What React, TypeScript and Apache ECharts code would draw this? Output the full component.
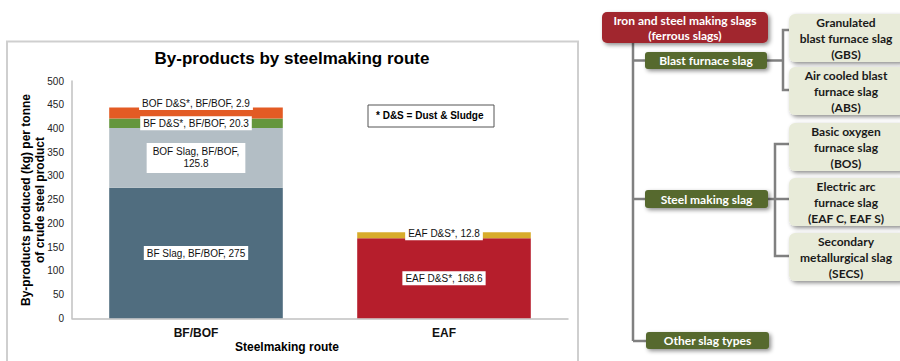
import React, { useEffect, useRef } from "react";
import * as echarts from "echarts";

const routes = ["BF/BOF", "EAF"];
const yTicks = { min: 0, max: 500, interval: 50 };

const bfSlag = [275, "-"];
const bofSlag = [125.8, "-"];
const bfDS = [20.3, "-"];
const bofDS = [22.9, "-"];
const eafDSMain = ["-", 168.6];
const eafDSTop = ["-", 12.8];

const segmentNames = ["BF Slag", "BOF Slag", "BF D&S*", "BOF D&S*", "EAF D&S* (main)", "EAF D&S* (top)"];
const segmentLabels = [
  "BF Slag, BF/BOF, 275",
  "BOF Slag, BF/BOF,\n125.8",
  "BF D&S*, BF/BOF, 20.3",
  "BOF D&S*, BF/BOF, 2.9",
  "EAF D&S*, 168.6",
  "EAF D&S*, 12.8",
];
const segmentColors = ["#506D7F", "#B3BEC5", "#65963D", "#E35B24", "#B61E2C", "#D8AC2B"];

const yAxisTitle = "By-products produced (kg) per tonne\nof crude steel product";
const xAxisTitle = "Steelmaking route";
const chartTitle = "By-products by steelmaking route";

const treeRoot = ["Iron and steel making slags", "(ferrous slags)"];
const treeGroups = ["Blast furnace slag", "Steel making slag", "Other slag types"];
const treeLeaves = [
  ["Granulated", "blast furnace slag", "(GBS)"],
  ["Air cooled blast", "furnace slag", "(ABS)"],
  ["Basic oxygen", "furnace slag", "(BOS)"],
  ["Electric arc", "furnace slag", "(EAF C, EAF S)"],
  ["Secondary", "metallurgical slag", "(SECS)"],
];

const FONT = "'Liberation Sans', Arial, sans-serif";
const TFONT = "Lato, 'Open Sans', sans-serif";

export default function App() {
  const ref = useRef<HTMLDivElement>(null);
  useEffect(() => {
    if (!ref.current) return;
    const chart = echarts.init(ref.current, null, { renderer: "svg" });
    const seriesData = [bfSlag, bofSlag, bfDS, bofDS, eafDSMain, eafDSTop];
    const offsets = [[0, 0], [0, 0], [0, 0], [0, -10], [0, 0], [0, -2]];
    const series = seriesData.map((d, i) => ({
      name: segmentNames[i],
      type: "bar",
      stack: "total",
      data: d,
      barWidth: "70%",
      itemStyle: { color: segmentColors[i] },
      label: {
        show: true,
        position: "inside",
        offset: offsets[i],
        formatter: () => segmentLabels[i],
        backgroundColor: "#ffffff",
        color: "#111",
        fontFamily: FONT,
        fontSize: 10,
        lineHeight: 12,
        padding: i === 1 ? [3, 6] : [1, 3],
      },
    }));

    const shadow = { shadowBlur: 4, shadowColor: "rgba(0,0,0,0.45)", shadowOffsetX: 2, shadowOffsetY: 2 };
    const lineStyle = { stroke: "#808080", lineWidth: 2.5, fill: null };
    const graphics: any[] = [];
    // frame
    graphics.push({ type: "rect", shape: { x: 7, y: 41.5, width: 571, height: 340 }, style: { fill: "none", stroke: "#cfcfcf", lineWidth: 2 }, z: -1 });
    graphics.push({ type: "text", x: 292, y: 58, style: { text: chartTitle, font: `bold 17px ${FONT}`, fill: "#000", textAlign: "center", textVerticalAlign: "middle" } });
    graphics.push({ type: "text", x: 287, y: 347, style: { text: xAxisTitle, font: `bold 12px ${FONT}`, fill: "#000", textAlign: "center", textVerticalAlign: "middle" } });
    graphics.push({ type: "text", x: 33, y: 200, rotation: Math.PI / 2, style: { text: yAxisTitle, font: `bold 12px ${FONT}`, lineHeight: 14, fill: "#000", textAlign: "center", textVerticalAlign: "middle" } });
    graphics.push({ type: "rect", shape: { x: 368, y: 105, width: 126, height: 22 }, style: { fill: "#fff", stroke: "#555", lineWidth: 1 } });
    graphics.push({ type: "text", x: 376, y: 115, style: { text: "* D&S = Dust & Sludge", font: `bold 10px ${FONT}`, fill: "#000", textAlign: "left", textVerticalAlign: "middle" } });

    // tree lines
    const lines = [
      [[633, 43], [633, 341]],
      [[633, 60.5], [646, 60.5]],
      [[633, 199], [646, 199]],
      [[633, 341], [647, 341]],
      [[767, 60.5], [783, 60.5]],
      [[789, 30], [783, 30], [783, 90], [789, 90]],
      [[768, 199], [789, 199]],
      [[789, 144], [775, 144], [775, 256], [789, 256]],
    ];
    lines.forEach((pts) => graphics.push({ type: "polyline", shape: { points: pts }, style: lineStyle }));

    // root
    graphics.push({ type: "rect", shape: { x: 602, y: 12, width: 166, height: 31, r: 5 }, style: { fill: "#A1282E", ...shadow } });
    graphics.push({ type: "text", x: 685, y: 27.5, style: { text: treeRoot.join("\n"), font: `bold 12px ${TFONT}`, lineHeight: 15, fill: "#fff", textAlign: "center", textVerticalAlign: "middle" } });
    // groups
    const groupBoxes = [[645, 52, 122, 17], [645, 190, 123, 18], [646, 332, 123, 17]];
    groupBoxes.forEach((b, i) => {
      graphics.push({ type: "rect", shape: { x: b[0], y: b[1], width: b[2], height: b[3], r: 3 }, style: { fill: "#56692F", ...shadow } });
      graphics.push({ type: "text", x: b[0] + b[2] / 2, y: b[1] + b[3] / 2, style: { text: treeGroups[i], font: `bold 12px ${TFONT}`, fill: "#fff", textAlign: "center", textVerticalAlign: "middle" } });
    });
    // leaves
    const leafY = [14, 67, 123, 178, 233];
    leafY.forEach((y, i) => {
      graphics.push({ type: "rect", shape: { x: 789, y, width: 116, height: 48, r: 6 }, style: { fill: "#E8EBD9", ...shadow } });
      graphics.push({ type: "text", x: 846, y: y + 24, style: { text: treeLeaves[i].join("\n"), font: `bold 12px ${TFONT}`, lineHeight: 16, fill: "#1a1a1a", textAlign: "center", textVerticalAlign: "middle" } });
    });

    chart.setOption({
      animation: false,
      grid: { left: 72, right: 332, top: 81, bottom: 42.7, containLabel: false },
      xAxis: {
        type: "category",
        data: routes,
        axisLine: { lineStyle: { color: "#c0c0c0", width: 1.5 } },
        axisTick: { show: false },
        axisLabel: { fontFamily: FONT, fontSize: 12, fontWeight: "bold", color: "#111", margin: 9 },
      },
      yAxis: {
        type: "value",
        min: yTicks.min,
        max: yTicks.max,
        interval: yTicks.interval,
        axisLine: { show: true, lineStyle: { color: "#c0c0c0", width: 1.5 } },
        axisTick: { show: false },
        splitLine: { show: false },
        axisLabel: { fontFamily: FONT, fontSize: 10, color: "#222", margin: 8 },
      },
      series,
      graphic: graphics,
    });
    return () => chart.dispose();
  }, []);
  return <div ref={ref} style={{ position: "fixed", left: 0, top: 0, width: 900, height: 361, background: "#fff" }} />;
}
